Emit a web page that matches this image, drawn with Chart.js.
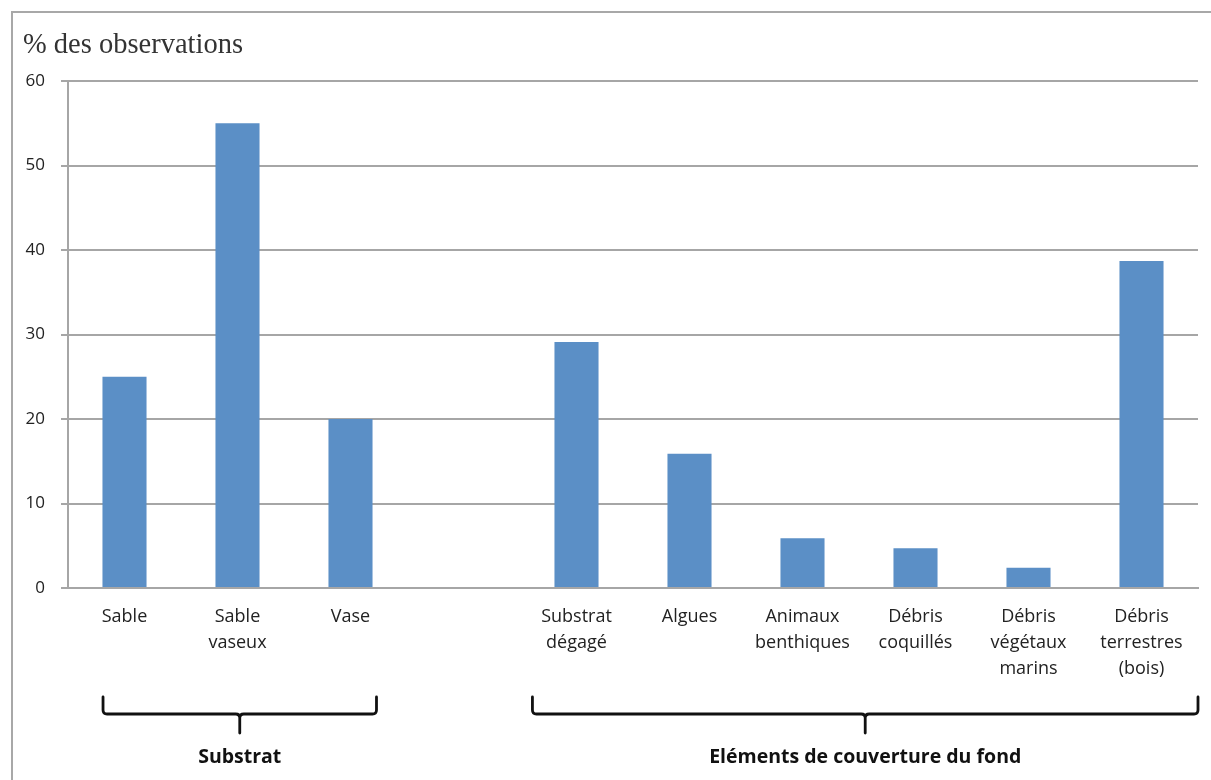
<!DOCTYPE html>
<html>
<head>
<meta charset="utf-8">
<script src="https://cdn.jsdelivr.net/npm/chart.js@4/dist/chart.umd.min.js"></script>
<style>
  html, body { margin: 0; padding: 0; background: #fff; overflow: hidden; }
  #wrap { position: relative; width: 1211px; height: 780px; }
  #frame { position: absolute; left: 11px; top: 11px; width: 1400px; height: 900px;
           border-left: 2px solid #a8a8a8; border-top: 2px solid #a8a8a8; }
  #migrafica { position: absolute; left: 0; top: 0; }
</style>
</head>
<body>
<div id="wrap">
  <div id="frame"></div>
  <canvas id="migrafica" width="1211" height="780"></canvas>
</div>
<script>
// categories (one empty slot separates the two groups)
const categories = [
  "Sable", ["Sable", "vaseux"], "Vase", "",
  ["Substrat", "dégagé"], "Algues", ["Animaux", "benthiques"],
  ["Débris", "coquillés"], ["Débris", "végétaux", "marins"],
  ["Débris", "terrestres", "(bois)"]
];
const pourcentages = [25, 55, 20, null, 29.1, 15.9, 5.9, 4.7, 2.4, 38.7];
const yTicks = [0, 10, 20, 30, 40, 50, 60];

const titre = "% des observations";
// groups: [first index, last index, label]
const groupes = [
  [0, 2, "Substrat"],
  [4, 9, "Eléments de couverture du fond"]
];

const accolades = {
  id: "accolades",
  afterDraw(chart) {
    const ctx = chart.ctx;
    const x = chart.scales.x;
    const step = x.getPixelForValue(1) - x.getPixelForValue(0);

    ctx.save();
    ctx.fillStyle = "#333";
    ctx.font = "28.5px 'Liberation Serif', 'Times New Roman', serif";
    ctx.textAlign = "left";
    ctx.textBaseline = "alphabetic";
    ctx.fillText(titre, 23, 53);

    ctx.strokeStyle = "#111";
    ctx.lineWidth = 2.8;
    ctx.lineCap = "round";
    ctx.lineJoin = "round";
    const yTop = 697, yLine = 714, yTip = 733, r = 4;
    const bornes = [[-0.19, 0.23], [-0.39, 0.5]];
    groupes.forEach((g, k) => {
      const x0 = x.getPixelForValue(g[0]) + bornes[k][0] * step;
      const x1 = x.getPixelForValue(g[1]) + bornes[k][1] * step;
      const xm = (x0 + x1) / 2;
      ctx.beginPath();
      ctx.moveTo(x0, yTop);
      ctx.lineTo(x0, yLine - r);
      ctx.quadraticCurveTo(x0, yLine, x0 + r, yLine);
      ctx.lineTo(xm - r, yLine);
      ctx.quadraticCurveTo(xm, yLine, xm, yLine + r);
      ctx.lineTo(xm, yTip);
      ctx.moveTo(xm, yLine + r);
      ctx.quadraticCurveTo(xm, yLine, xm + r, yLine);
      ctx.lineTo(x1 - r, yLine);
      ctx.quadraticCurveTo(x1, yLine, x1, yLine - r);
      ctx.lineTo(x1, yTop);
      ctx.stroke();

      ctx.fillStyle = "#111";
      ctx.font = "bold 19.5px 'Open Sans', sans-serif";
      ctx.textAlign = "center";
      ctx.textBaseline = "middle";
      ctx.fillText(g[2], xm, 757);
    });
    ctx.restore();
  }
};

const config = {
  type: "bar",
  data: {
    labels: categories,
    datasets: [{
      data: pourcentages,
      backgroundColor: "#5b8fc6",
      categoryPercentage: 1,
      barPercentage: 0.39
    }]
  },
  options: {
    responsive: false,
    animation: false,
    layout: { padding: { left: 0, top: 81, right: 13, bottom: 0 } },
    plugins: { legend: { display: false }, tooltip: { enabled: false } },
    scales: {
      x: {
        grid: { display: false, drawTicks: false },
        border: { color: "#a6a6a6", width: 2 },
        ticks: {
          color: "#222",
          font: { family: "'Open Sans', sans-serif", size: 18, lineHeight: "26px" },
          padding: 16,
          maxRotation: 0,
          autoSkip: false
        },
        afterFit(scale) { scale.height = 192; }
      },
      y: {
        min: 0, max: 60,
        afterBuildTicks(scale) { scale.ticks = yTicks.map(v => ({ value: v })); },
        grid: { color: "#a6a6a6", lineWidth: 2, tickLength: 7 },
        border: { color: "#a6a6a6", width: 2 },
        ticks: {
          color: "#222",
          font: { family: "'Open Sans', sans-serif", size: 17 },
          padding: 16
        },
        afterFit(scale) { scale.width = 68; }
      }
    }
  },
  plugins: [accolades]
};

const ctx = document.getElementById("migrafica").getContext("2d");
window.myBar = new Chart(ctx, config);
</script>
</body>
</html>
